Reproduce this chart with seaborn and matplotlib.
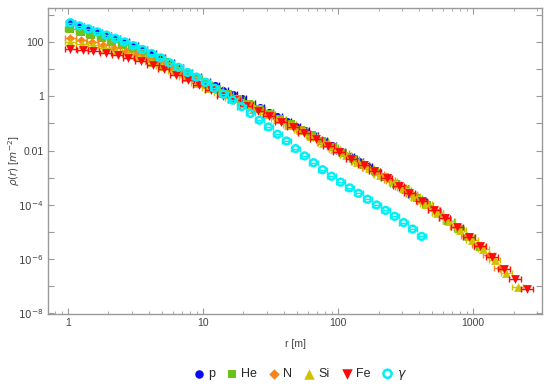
import numpy as np
import matplotlib
matplotlib.use("Agg")
import matplotlib.pyplot as plt
import matplotlib.ticker as mticker
import seaborn as sns

# log10(r [m]) bin centres and log10(rho [m^-2])
lr_p = [0.02, 0.087, 0.153, 0.22, 0.287, 0.353, 0.42, 0.487, 0.553, 0.62,
        0.687, 0.753, 0.82, 0.887, 0.953, 1.02, 1.087, 1.153, 1.22, 1.287,
        1.353, 1.42, 1.487, 1.553, 1.62, 1.687, 1.753, 1.82, 1.887, 1.953,
        2.02, 2.087, 2.153, 2.22, 2.287, 2.353, 2.42, 2.487, 2.553, 2.62]
lrho_p = [2.71, 2.60, 2.49, 2.39, 2.27, 2.15, 2.03, 1.89, 1.75, 1.61,
          1.45, 1.27, 1.10, 0.91, 0.74, 0.57, 0.40, 0.24, 0.08, -0.08,
          -0.25, -0.41, -0.58, -0.74, -0.91, -1.08, -1.26, -1.44, -1.63, -1.81,
          -2.01, -2.20, -2.39, -2.59, -2.79, -2.98, -3.19, -3.40, -3.63, -3.85]

lr_he = [0.02, 0.098, 0.175, 0.253, 0.331, 0.408, 0.486, 0.564, 0.642, 0.719,
         0.797, 0.875, 0.952, 1.03, 1.108, 1.185, 1.263, 1.341, 1.418, 1.496,
         1.574, 1.652, 1.729, 1.807, 1.885, 1.962, 2.04, 2.118, 2.195, 2.273,
         2.351, 2.428, 2.506, 2.584, 2.662, 2.739, 2.817, 2.895, 2.972, 3.05]
lrho_he = [2.48, 2.37, 2.26, 2.14, 2.02, 1.89, 1.75, 1.59, 1.43, 1.26,
           1.06, 0.85, 0.66, 0.46, 0.27, 0.10, -0.09, -0.27, -0.45, -0.64,
           -0.83, -1.02, -1.23, -1.44, -1.65, -1.87, -2.09, -2.31, -2.53, -2.76,
           -2.99, -3.23, -3.47, -3.74, -4.01, -4.30, -4.60, -4.90, -5.21, -5.55]

lr_n = [0.02, 0.10, 0.18, 0.265, 0.346, 0.428, 0.509, 0.59, 0.672, 0.754,
        0.835, 0.917, 0.998, 1.08, 1.161, 1.243, 1.324, 1.406, 1.487, 1.569,
        1.65, 1.732, 1.813, 1.895, 1.976, 2.058, 2.139, 2.221, 2.302, 2.384,
        2.465, 2.547, 2.628, 2.71, 2.791, 2.873, 2.954, 3.036, 3.117, 3.2]
lrho_n = [2.16, 2.08, 2.00, 1.90, 1.79, 1.68, 1.56, 1.41, 1.25, 1.06,
          0.86, 0.66, 0.47, 0.28, 0.10, -0.08, -0.27, -0.46, -0.66, -0.86,
          -1.05, -1.26, -1.49, -1.71, -1.94, -2.17, -2.41, -2.63, -2.87, -3.10,
          -3.35, -3.61, -3.89, -4.19, -4.50, -4.81, -5.14, -5.48, -5.85, -6.33]

lr_si = [0.02, 0.105, 0.19, 0.275, 0.36, 0.444, 0.529, 0.614, 0.699, 0.784,
         0.869, 0.954, 1.039, 1.124, 1.209, 1.294, 1.378, 1.463, 1.548, 1.633,
         1.718, 1.803, 1.888, 1.973, 2.058, 2.143, 2.227, 2.312, 2.397, 2.482,
         2.567, 2.652, 2.737, 2.822, 2.907, 2.992, 3.076, 3.161, 3.246, 3.331]
lrho_si = [2.00, 1.95, 1.88, 1.79, 1.69, 1.57, 1.44, 1.28, 1.12, 0.92,
           0.71, 0.51, 0.31, 0.13, -0.06, -0.25, -0.44, -0.64, -0.83, -1.04,
           -1.25, -1.48, -1.71, -1.95, -2.18, -2.42, -2.65, -2.89, -3.14, -3.40,
           -3.68, -3.98, -4.29, -4.62, -4.95, -5.29, -5.65, -6.06, -6.52, -7.05]

lr_fe = [0.02, 0.11, 0.19, 0.28, 0.37, 0.45, 0.54, 0.63, 0.71, 0.80,
         0.89, 0.97, 1.06, 1.15, 1.23, 1.32, 1.41, 1.49, 1.58, 1.67,
         1.75, 1.84, 1.93, 2.01, 2.10, 2.19, 2.27, 2.36, 2.45, 2.53,
         2.62, 2.71, 2.79, 2.88, 2.97, 3.05, 3.14, 3.23, 3.31, 3.40]
lrho_fe = [1.75, 1.72, 1.67, 1.60, 1.51, 1.42, 1.29, 1.15, 1.00, 0.80,
           0.59, 0.42, 0.22, 0.03, -0.15, -0.34, -0.54, -0.73, -0.93, -1.15,
           -1.35, -1.59, -1.83, -2.05, -2.30, -2.54, -2.77, -3.03, -3.30, -3.56,
           -3.86, -4.19, -4.49, -4.84, -5.20, -5.53, -5.94, -6.36, -6.75, -7.12]

lr_g = lr_p
lrho_g = [2.72, 2.60, 2.49, 2.38, 2.26, 2.14, 2.01, 1.87, 1.73, 1.58,
          1.42, 1.24, 1.07, 0.88, 0.71, 0.52, 0.30, 0.08, -0.14, -0.38,
          -0.63, -0.88, -1.13, -1.40, -1.65, -1.93, -2.20, -2.45, -2.71, -2.95,
          -3.17, -3.38, -3.58, -3.80, -4.01, -4.21, -4.43, -4.66, -4.90, -5.17]

names = ["p", "He", "N", "Si", "Fe", r"$\gamma$"]
colors = ["#0a0aee", "#6cc21a", "#f7841c", "#cfc300", "#ff0a0a", "#00f0f5"]
markers = ["o", "s", "D", "^", "v", "o"]
sizes = [26, 26, 20, 40, 40, 24]
# half bin width in log10(r)
half_bin = [0.033, 0.039, 0.041, 0.042, 0.043, 0.033]
series = [(lr_p, lrho_p), (lr_he, lrho_he), (lr_n, lrho_n),
          (lr_si, lrho_si), (lr_fe, lrho_fe), (lr_g, lrho_g)]

sns.set_theme(style="ticks")
plt.rcParams["font.family"] = ["Liberation Sans", "DejaVu Sans"]
plt.rcParams["mathtext.fontset"] = "dejavusans"

fig = plt.figure(figsize=(5.5, 3.88), dpi=100)
ax = fig.add_axes([0.0873, 0.191, 0.8982, 0.788])

for i, (lr, lrho) in enumerate(series):
    r = np.power(10.0, lr)
    rho = np.power(10.0, lrho)
    h = half_bin[i]
    xerr = [r * (1 - 10 ** -h), r * (10 ** h - 1)]
    ax.errorbar(r, rho, xerr=xerr, fmt="none", ecolor=colors[i],
                elinewidth=1.0, capsize=2.2, capthick=1.0, zorder=2 + i)
    if i == 5:
        sns.scatterplot(x=r, y=rho, ax=ax, marker=markers[i], s=sizes[i],
                        color=colors[i], facecolors="none",
                        edgecolor=colors[i], linewidth=1.8,
                        label=names[i], zorder=2.5 + i)
    else:
        sns.scatterplot(x=r, y=rho, ax=ax, marker=markers[i], s=sizes[i],
                        color=colors[i], linewidth=0,
                        label=names[i], zorder=2.5 + i)

ax.set_xscale("log")
ax.set_yscale("log")
ax.set_xlim(0.715, 3245)
ax.set_ylim(9.3e-9, 1.8e3)

ax.xaxis.set_major_locator(mticker.FixedLocator([1, 10, 100, 1000]))
ax.xaxis.set_major_formatter(mticker.FixedFormatter(["1", "10", "100", "1000"]))
ax.xaxis.set_minor_locator(mticker.LogLocator(base=10, subs=np.arange(2, 10)))
ax.xaxis.set_minor_formatter(mticker.NullFormatter())

ydec = [10.0 ** k for k in range(-8, 4)]
ylab = {-8: r"$10^{-8}$", -6: r"$10^{-6}$", -4: r"$10^{-4}$",
        -2: "0.01", 0: "1", 2: "100"}
ax.yaxis.set_major_locator(mticker.FixedLocator(ydec))
ax.yaxis.set_major_formatter(mticker.FixedFormatter(
    [ylab.get(k, "") for k in range(-8, 4)]))
ax.yaxis.set_minor_locator(mticker.NullLocator())

grey = "#9a9a9a"
for sp in ax.spines.values():
    sp.set_color(grey)
    sp.set_linewidth(1.0)
ax.tick_params(which="both", direction="in", top=True, right=True,
               color=grey, labelcolor="#444444", labelsize=7.5)
ax.tick_params(which="major", length=4, width=0.8, pad=3)
ax.tick_params(which="minor", length=2, width=0.6)

ax.set_xlabel("r [m]", fontsize=7.5, color="#444444", labelpad=8)
ax.set_ylabel(r"$\rho(r)$ [$m^{-2}$]", fontsize=7.5, color="#444444")
ax.yaxis.set_label_coords(-0.052, 0.5)

ax.legend()
sns.move_legend(ax, "center", bbox_to_anchor=(0.51, -0.2), ncol=6,
                frameon=False, title=None, fontsize=9, handletextpad=0.3,
                handlelength=0.9, columnspacing=0.9, markerscale=1.2)

fig.savefig("out.png", dpi=100)
